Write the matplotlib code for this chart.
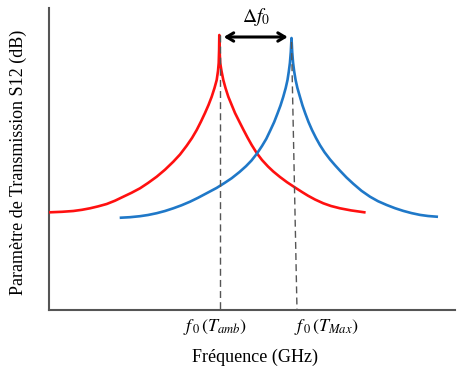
import numpy as np
import matplotlib
matplotlib.use('Agg')
import matplotlib.pyplot as plt

plt.rcParams['font.family'] = ['Liberation Serif', 'DejaVu Serif']
plt.rcParams['mathtext.fontset'] = 'stix'

# curves: frequency (arbitrary units) and S12 level (arbitrary dB units)
red_freq = [50, 62, 73.3, 82, 90, 98, 106.7, 115, 123.3, 131.5, 140, 148, 156.7, 165, 173.3,
            180, 186.7, 192, 196.7, 201, 205, 208.5, 211.7, 214.5, 216.7, 218, 218.7, 219.1,
            219.3,
            219.6, 220.2, 221.5, 223.3, 225.5, 228.3, 231.5, 235, 239, 243.3, 247.5, 251.7,
            256.7, 262, 268, 273.3, 280, 287, 295, 302, 308, 315, 323.3, 331, 340, 351, 364.3]
red_level = [97.7, 98.2, 99, 100.2, 101.7, 103.6, 106, 109.3, 113.3, 117.2, 121.7, 127, 133.3,
             140.3, 148.3, 155.5, 164.3, 172, 180, 188.5, 197, 205, 213.3, 222, 230, 239,
             247, 260, 275,
             260, 247, 239, 230, 222, 213.3, 205.5, 197, 189, 180.5, 172.5, 165, 157, 150,
             143.5, 138.5, 133, 127.8, 122.5, 118, 114.3, 110.5, 106.7, 104, 101.7, 99.6, 97.7]

blue_freq = [121, 130, 140, 148, 156.7, 165, 173.3, 181.5, 190, 198, 206.7, 216.5, 224.5, 231.7,
             239.5, 246, 251.5, 257, 262, 266.3, 270.5, 274.2, 277.5, 280.5, 283.2, 285.7,
             287.5, 288.8, 289.9, 290.8, 291.5,
             292.2, 293.1, 294.2, 295.6, 297.4, 300, 302.5, 305.3, 308.5, 312, 316, 320, 324.5,
             330, 335, 340, 346.5, 353.3, 361.5, 370, 378, 386.7, 395, 403.3, 411.5, 420, 428,
             436.7]
blue_level = [92.3, 92.8, 93.8, 95, 96.8, 99, 101.7, 104.7, 108.3, 112.2, 116.8, 122, 127, 131.8,
              138, 143.8, 149.5, 156.5, 164, 171.2, 180, 188, 196.5, 204.5, 213, 222,
              230, 238.5, 247, 258, 272,
              258, 247, 238.5, 230, 222, 213, 204.5, 196.5, 188, 180, 172, 164.8, 157.8,
              150.6, 144.8, 139.3, 132.5, 126.2, 119.2, 113.3, 108.8, 105, 101.8, 99.1, 96.9,
              95.1, 94, 93.3]

f0_amb = 220
f0_max_top = 291.5
f0_max_bottom = 297
label_pos = [215.5, 326]
tick_labels = [r'$f_{\,0}\,(T_{amb})$', r'$f_{\,0}\,(T_{Max})$']

fig = plt.figure(figsize=(4.57, 3.73), dpi=100)
ax = fig.add_axes([49 / 457, 63 / 373, 406 / 457, 302 / 373])
ax.set_xlim(49, 455)
ax.set_ylim(0, 302)

ax.plot(red_freq, red_level, color='#ff1010', lw=1.9, solid_joinstyle='round', zorder=3)
ax.plot(blue_freq, blue_level, color='#1f78c8', lw=1.9, solid_joinstyle='round', zorder=3)

# dashed markers down to the axis
ax.plot([f0_amb, f0_amb], [275, 0], color='#555555', lw=1.0, ls=(0, (5, 3)), zorder=4)
ax.plot([f0_max_top, f0_max_bottom], [268, 0], color='#555555', lw=1.0, ls=(0, (5, 3)), zorder=4)

# delta f arrow
ax.annotate('', xy=(f0_max_top - 1, 273), xytext=(f0_amb + 1, 273),
            arrowprops=dict(arrowstyle='<->, head_length=0.5, head_width=0.3', color='black', lw=2.2),
            zorder=5)
ax.text((f0_amb + f0_max_top) / 2, 293, r'$\Delta f_0$', ha='center', va='center', fontsize=14)

for side in ['top', 'right']:
    ax.spines[side].set_visible(False)
for side in ['left', 'bottom']:
    ax.spines[side].set_color('#555555')
    ax.spines[side].set_linewidth(1.5)

ax.set_yticks([])
ax.set_xticks([])
for pos, lab in zip(label_pos, tick_labels):
    ax.text(pos, -0.056, lab, transform=ax.get_xaxis_transform(), ha='center', va='center',
            fontsize=13)

ax.set_xlabel('Fréquence (GHz)', fontsize=13, va='center')
ax.xaxis.set_label_coords(0.507, -0.156)
ax.set_ylabel('Paramètre de Transmission S12 (dB)', fontsize=13, va='center')
ax.yaxis.set_label_coords(-0.076, 0.49)

fig.savefig('out.png', dpi=100)
